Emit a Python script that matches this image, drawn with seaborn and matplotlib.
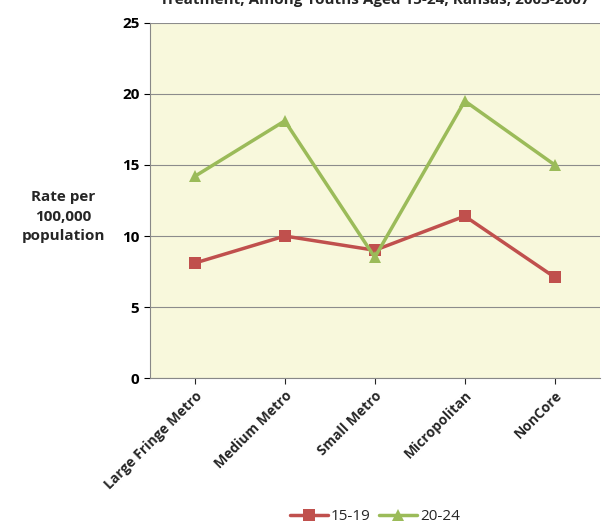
import matplotlib
matplotlib.use("Agg")
import matplotlib.pyplot as plt
import seaborn as sns
import pandas as pd

categories = ["Large Fringe Metro", "Medium Metro", "Small Metro", "Micropolitan", "NonCore"]
s1519 = [8.1, 10.0, 9.0, 11.4, 7.1]
s2024 = [14.2, 18.1, 8.5, 19.5, 15.0]

df = pd.DataFrame({"cat": categories * 2,
                   "val": s1519 + s2024,
                   "grp": ["15-19"] * 5 + ["20-24"] * 5})

sns.set_style("white")
plt.rcParams['font.family'] = ['Open Sans', 'DejaVu Sans']
fig = plt.figure(figsize=(6.04, 5.29), dpi=100)
ax = fig.add_axes([0.248, 0.285, 0.745, 0.672])
ax.set_facecolor("#F8F8DC")
sns.lineplot(data=df, x="cat", y="val", hue="grp", style="grp",
             palette={"15-19": "#C0504D", "20-24": "#9BBB59"},
             markers={"15-19": "s", "20-24": "^"}, dashes=False,
             linewidth=2.5, markersize=8, markeredgewidth=0, sort=False, ax=ax)
ax.set_ylim(0, 25)
ax.set_xlim(-0.5, 4.5)
ax.set_yticks(range(0, 26, 5))
ax.grid(axis="y", color="#8c8c8c", linewidth=0.8)
for s in ["top", "right"]:
    ax.spines[s].set_visible(False)
ax.spines["left"].set_color("#888888")
ax.spines["bottom"].set_color("#888888")
ax.tick_params(axis="y", labelsize=11, length=4, left=True, colors="black")
ax.tick_params(axis="x", labelsize=10, bottom=True, length=4)
ax.set_xticks(range(5))
ax.set_xticklabels(categories, rotation=45, ha="right", rotation_mode="anchor", fontweight="bold")
for t in ax.get_yticklabels():
    t.set_fontweight("bold")
ax.set_xlabel("")
ax.set_ylabel("")
fig.text(0.105, 0.59, "Rate per\n100,000\npopulation", ha="center", va="center",
         fontsize=11, fontweight="bold", linespacing=1.5)
fig.text(0.62, 1.0, "Treatment, Among Youths Aged 15-24, Kansas, 2003-2007",
         ha="center", va="center", fontsize=11, fontweight="bold")
ax.legend(loc="center", bbox_to_anchor=(0.5, -0.39), ncol=2, frameon=False,
          fontsize=11, handlelength=2.5, columnspacing=0.5, handletextpad=0.2)
fig.savefig("out.png", dpi=100)
